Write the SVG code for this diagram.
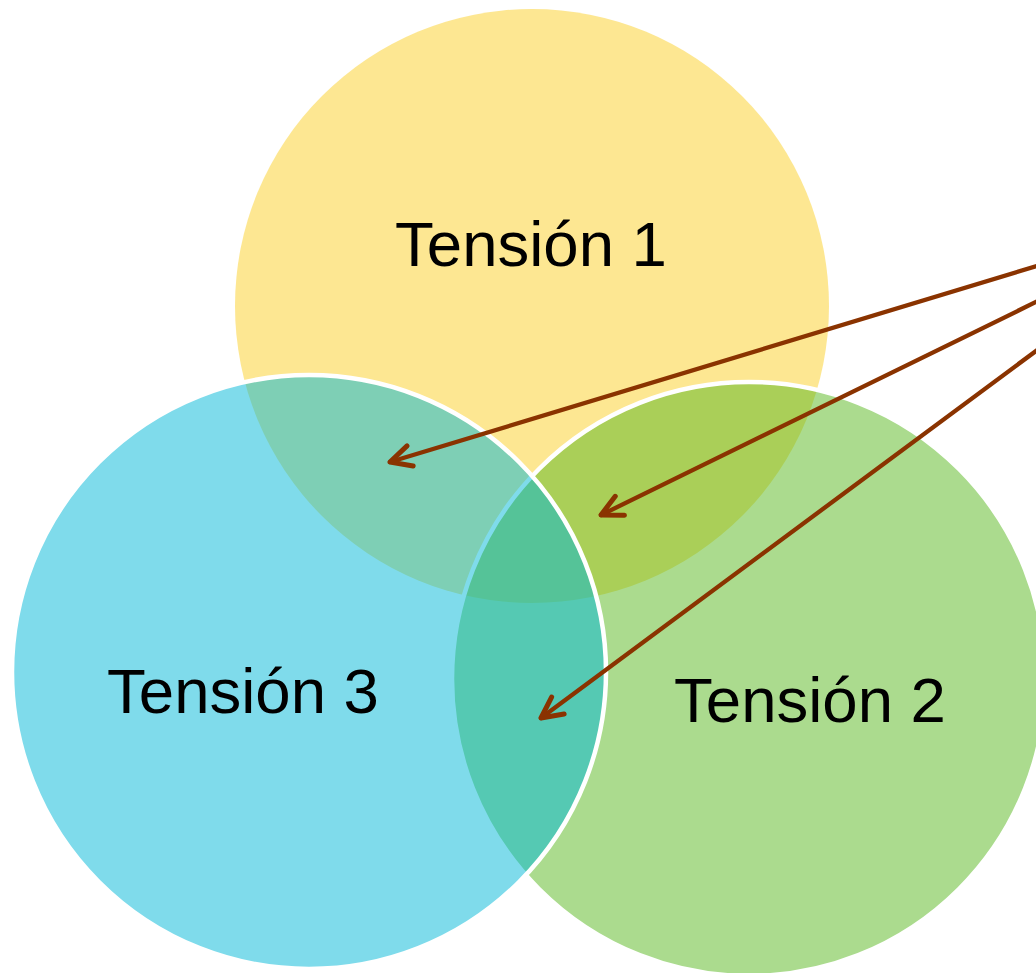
<svg xmlns="http://www.w3.org/2000/svg" width="1036" height="973" viewBox="0 0 1036 973">
<style>
.c{fill-opacity:0.5}
.s{stroke:#FFFFFF;stroke-width:4.5}
.t{font-family:"Liberation Sans",Arial,sans-serif;font-size:63.5px;fill:#000000;text-anchor:middle}
.a{stroke:#8A3300;stroke-width:4.3;fill:none;stroke-linecap:round;marker-end:url(#ah)}
</style>
<defs>
<marker id="ah" markerUnits="userSpaceOnUse" viewBox="-26 -15 32 30" markerWidth="32" markerHeight="30" refX="0" refY="0" orient="auto">
<path d="M-21,-10.5 L0,0 L-21,10.5" fill="none" stroke="#8A3300" stroke-width="5" stroke-linecap="round" stroke-linejoin="round"/>
</marker>
</defs>
<rect width="1036" height="973" fill="#FFFFFF"/>
<g id="tension1">
<circle class="c" cx="532" cy="306" r="297" fill="#FBCF25"/>
</g>
<g id="tension2">
<circle class="c s" cx="749" cy="679" r="297" fill="#57B71D"/>
</g>
<g id="tension3">
<circle class="c s" cx="309" cy="672" r="297" fill="#00B7D7"/>
</g>
<g id="labels">
<text class="t" x="531" y="266">Tensión 1</text>
<text class="t" x="243" y="713">Tensión 3</text>
<text class="t" x="810" y="722">Tensión 2</text>
</g>
<g id="connectors">
<line class="a" x1="1040" y1="265" x2="390" y2="462"/>
<line class="a" x1="1040" y1="300" x2="601" y2="515"/>
<line class="a" x1="1040" y1="348" x2="541" y2="718"/>
</g>
</svg>
